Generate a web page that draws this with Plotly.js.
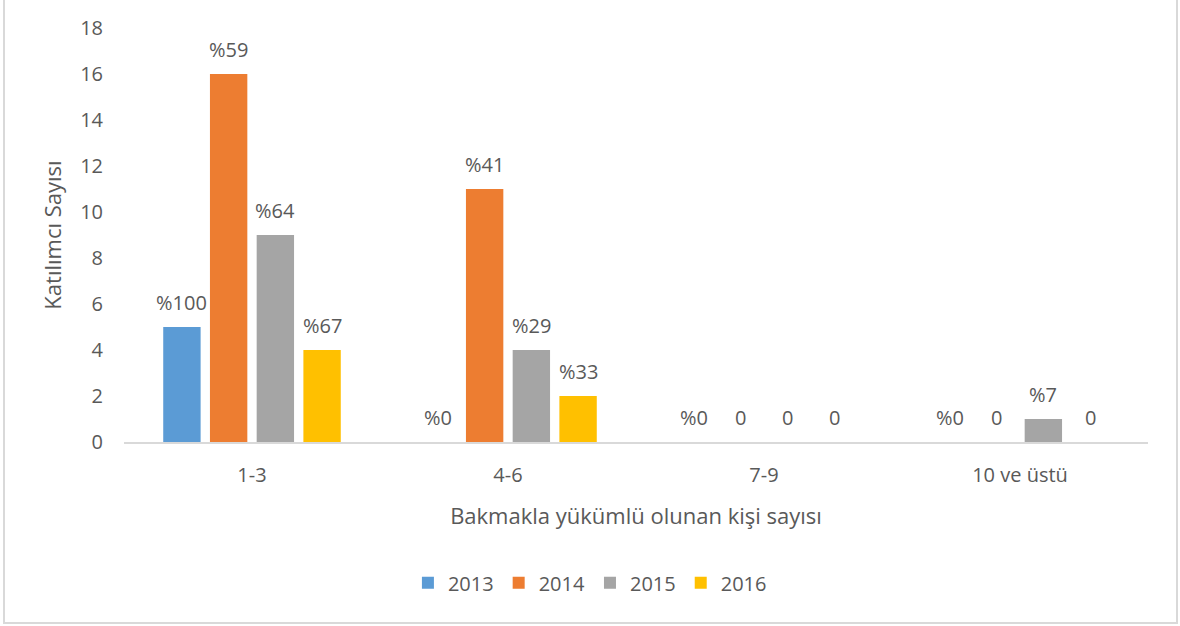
<!DOCTYPE html>
<html>
<head>
<meta charset="utf-8">
<script src="https://cdn.plot.ly/plotly-3.0.1.min.js"></script>
<style>
  html, body { margin: 0; padding: 0; background: #fff; }
  #wrap { position: relative; width: 1180px; height: 626px; overflow: hidden; }
  #frame { position: absolute; left: 3px; top: -4px; width: 1175px; height: 628px; border: 2px solid #d9d9d9; box-sizing: border-box; pointer-events: none; }
  #chart { position: absolute; left: 0; top: 0; width: 1180px; height: 626px; }
</style>
</head>
<body>
<div id="wrap">
  <div id="chart"></div>
  <div id="frame"></div>
</div>
<script>
const categories = ["1-3", "4-6", "7-9", "10 ve üstü"];
const seriesNames = ["2013", "2014", "2015", "2016"];
const values2013 = [5, 0, 0, 0];
const values2014 = [16, 11, 0, 0];
const values2015 = [9, 4, 0, 1];
const values2016 = [4, 2, 0, 0];
const labels2013 = ["%100", "%0", "%0", "%0"];
const labels2014 = ["%59", "%41", "0", "0"];
const labels2015 = ["%64", "%29", "0", "%7"];
const labels2016 = ["%67", "%33", "0", "0"];
const colors = ["#5b9bd5", "#ed7d31", "#a5a5a5", "#ffc000"];

const allValues = [values2013, values2014, values2015, values2016];
const allLabels = [labels2013, labels2014, labels2015, labels2016];

const FONT = "Open Sans, Liberation Sans, sans-serif";
const TXT = "#595959";
const bargap = 0.27;

const traces = seriesNames.map((name, i) => ({
  type: "bar",
  name: name,
  x: categories,
  y: allValues[i],
  marker: { color: colors[i] },
  hoverinfo: "skip"
}));

const annotations = [];
const slot = (1 - bargap) / seriesNames.length;
seriesNames.forEach((name, i) => {
  categories.forEach((c, j) => {
    annotations.push({
      x: j + (i - (seriesNames.length - 1) / 2) * slot,
      y: allValues[i][j],
      xref: "x", yref: "y",
      text: allLabels[i][j],
      showarrow: false,
      yanchor: "middle",
      yshift: 25,
      font: { family: FONT, size: 20, color: TXT }
    });
  });
});

const layout = {
  width: 1180, height: 626,
  margin: { l: 124, r: 32, t: 28, b: 184 },
  paper_bgcolor: "rgba(0,0,0,0)",
  plot_bgcolor: "rgba(0,0,0,0)",
  barmode: "group",
  bargap: bargap,
  bargroupgap: 0.2,
  showlegend: true,
  legend: {
    orientation: "h",
    x: 0.455, xanchor: "center",
    y: -0.34, yanchor: "middle",
    font: { family: FONT, size: 20, color: TXT },
    itemwidth: 30,
    traceorder: "normal"
  },
  xaxis: {
    type: "category",
    showline: true, linecolor: "#d9d9d9", linewidth: 2,
    showgrid: false, zeroline: false,
    ticks: "",
    ticklabelstandoff: 14,
    tickfont: { family: FONT, size: 20, color: TXT },
    title: { text: "Bakmakla yükümlü olunan kişi sayısı", font: { family: FONT, size: 22, color: TXT }, standoff: 22 }
  },
  yaxis: {
    range: [0, 18],
    dtick: 2,
    showline: false, showgrid: false, zeroline: false,
    ticks: "",
    ticklabelstandoff: 20,
    tickfont: { family: FONT, size: 20, color: TXT },
    title: { text: "Katılımcı Sayısı", font: { family: FONT, size: 22, color: TXT }, standoff: 12 }
  },
  annotations: annotations
};

Plotly.newPlot("chart", traces, layout, { displayModeBar: false, staticPlot: true });
</script>
</body>
</html>
